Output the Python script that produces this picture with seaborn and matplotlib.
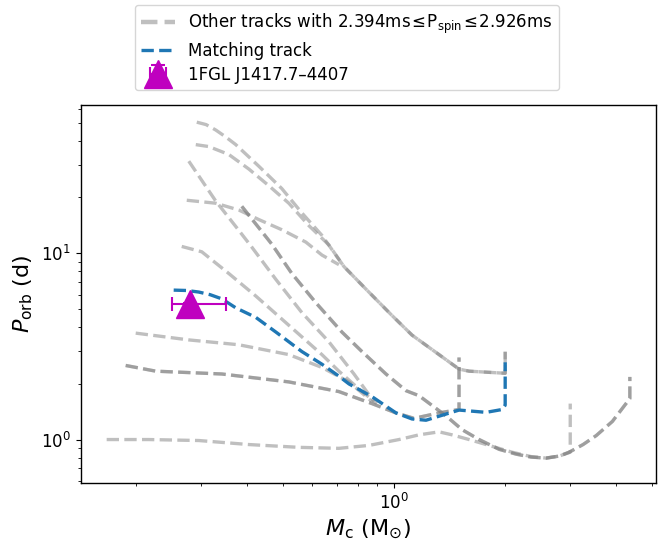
"""
Orbital period vs. companion mass for binary evolution tracks,
with the matching track and 1FGL J1417.7-4407 marked.
"""

import matplotlib
matplotlib.use("Agg")
import matplotlib.pyplot as plt
from matplotlib.lines import Line2D
import seaborn as sns
import pandas as pd

sns.set_style("ticks", {
    "axes.edgecolor": "black",
    "axes.labelcolor": "black",
    "text.color": "black",
    "xtick.color": "black",
    "ytick.color": "black",
    "xtick.direction": "out",
    "ytick.direction": "out",
})
plt.rcParams["font.family"] = ["DejaVu Sans"]

# ---- data (Mc in Msun, Porb in days) ----
# other tracks, each one its own pair of lists
trk_a_mc = [0.2925, 0.31, 0.3293, 0.35, 0.373, 0.4306, 0.497, 0.5631, 0.6381, 0.732,
            0.8396, 0.9876, 1.119, 1.324, 1.5, 1.597, 2.0, 2.0]
trk_a_p = [50.7, 49.2, 46.0, 42.3, 38.4, 29.4, 22.3, 16.5, 12.5, 8.5,
           6.43, 4.64, 3.64, 2.86, 2.39, 2.33, 2.27, 2.97]

trk_b_mc = [0.2907, 0.3152, 0.3571, 0.4046, 0.4584, 0.5192, 0.5883, 0.6665, 0.732,
            0.8396, 0.9876, 1.119, 1.324, 1.5, 1.597, 2.0, 2.0]
trk_b_p = [38.4, 37.5, 34.0, 28.4, 23.1, 18.6, 14.1, 11.1, 8.5,
           6.43, 4.64, 3.64, 2.86, 2.39, 2.33, 2.27, 2.97]

trk_c_mc = [0.2783, 0.3293, 0.3801, 0.4123, 0.4789, 0.5631, 0.6665, 0.7793, 0.8828]
trk_c_p = [31.3, 19.1, 13.3, 10.8, 7.25, 4.81, 3.35, 2.25, 1.60]

trk_d_mc = [0.2748, 0.3293, 0.3801, 0.4306, 0.497, 0.5773, 0.6381, 0.7094]
trk_d_p = [19.3, 18.6, 17.1, 15.2, 13.4, 11.5, 9.8, 8.7]

trk_e_mc = [0.2663, 0.3018, 0.3571, 0.4227, 0.5192, 0.6381, 0.7094, 0.8039, 0.8993]
trk_e_p = [10.9, 10.2, 7.8, 5.9, 4.11, 2.86, 2.33, 1.87, 1.56]

trk_f_mc = [0.3873, 0.4671, 0.529, 0.6146, 0.7229, 0.819, 0.9513, 1.078, 1.169,
            1.383, 1.529, 1.70, 1.926, 2.141, 2.35, 2.582, 2.8, 2.98, 3.25, 3.527,
            3.9, 4.35, 4.35]
trk_f_p = [17.9, 11.2, 7.8, 5.43, 3.78, 2.97, 2.25, 1.83, 1.72,
           1.34, 1.13, 1.0, 0.886, 0.835, 0.805, 0.795, 0.815, 0.855, 0.94, 1.05,
           1.25, 1.66, 2.17]

trk_g_mc = [0.1999, 0.2783, 0.3801, 0.5192, 0.6381, 0.7553, 0.8718]
trk_g_p = [3.73, 3.43, 3.23, 2.86, 2.44, 2.04, 1.60]

trk_h_mc = [0.1878, 0.2265, 0.3419, 0.5192, 0.7094, 0.8718, 1.0125, 1.133, 1.324, 1.5, 1.5]
trk_h_p = [2.50, 2.33, 2.25, 2.04, 1.81, 1.56, 1.39, 1.30, 1.39, 1.45, 2.76]

trk_i_mc = [0.1668, 0.2168, 0.2962, 0.4046, 0.5526, 0.7094, 0.8555, 1.0317, 1.169,
            1.324, 1.436, 1.597, 1.776, 2.088, 2.35, 2.582, 2.8, 3.0, 3.0]
trk_i_p = [1.0, 1.0, 0.988, 0.94, 0.908, 0.897, 0.93, 1.0, 1.06,
           1.10, 1.06, 1.0, 0.94, 0.855, 0.81, 0.795, 0.815, 0.855, 1.56]

# F and H each stand for two tracks lying on top of each other
other_tracks = [
    (trk_a_mc, trk_a_p), (trk_b_mc, trk_b_p), (trk_c_mc, trk_c_p),
    (trk_d_mc, trk_d_p), (trk_e_mc, trk_e_p),
    (trk_f_mc, trk_f_p), (trk_f_mc, trk_f_p),
    (trk_g_mc, trk_g_p),
    (trk_h_mc, trk_h_p), (trk_h_mc, trk_h_p),
    (trk_i_mc, trk_i_p),
]

match_mc = [0.2533, 0.275, 0.2962, 0.318, 0.3419, 0.373, 0.4227, 0.4789, 0.5631, 0.6381,
            0.7094, 0.7553, 0.8718, 1.0125, 1.119, 1.221, 1.349, 1.5, 1.776, 1.962,
            2.0, 2.0]
match_p = [6.35, 6.32, 6.2, 6.0, 5.7, 5.1, 4.53, 3.78, 2.97, 2.54,
           2.19, 1.99, 1.70, 1.39, 1.29, 1.27, 1.35, 1.44, 1.40, 1.45,
           1.53, 2.60]

# 1FGL J1417.7-4407
src_name = "1FGL J1417.7\u20134407"
src_mc = [0.28]
src_p = [5.36]
src_mc_err = [[0.03], [0.07]]
src_p_err = [0.05]

# ---- build frames ----
rows = []
for k, (mc, p) in enumerate(other_tracks):
    for x, y in zip(mc, p):
        rows.append({"track": k, "Mc": x, "Porb": y})
others_df = pd.DataFrame(rows)
match_df = pd.DataFrame({"Mc": match_mc, "Porb": match_p})

# ---- plot ----
fig = plt.figure(figsize=(6.59, 5.48), dpi=100)
ax = fig.add_axes([80.5 / 659, 65.3 / 548, 575.5 / 659, 377.7 / 548])
ax.set_xscale("log")
ax.set_yscale("log")

sns.lineplot(data=others_df, x="Mc", y="Porb", units="track", estimator=None,
             sort=False, color="grey", alpha=0.5, lw=2.4, ls="--",
             legend=False, ax=ax)
sns.lineplot(data=match_df, x="Mc", y="Porb", sort=False, estimator=None,
             color="#1f77b4", lw=2.4, ls="--", legend=False, ax=ax)

eb = ax.errorbar(src_mc, src_p, xerr=src_mc_err, yerr=src_p_err, fmt="^",
                 color="m", ms=20, elinewidth=1.5, capsize=4.7, capthick=1.5,
                 zorder=5)

ax.set_xlabel(r"$M_{\rm c}$ (M$_{\odot}$)", fontsize=16)
ax.set_ylabel(r"$P_{\rm orb}$ (d)", fontsize=16)
ax.tick_params(axis="both", which="major", labelsize=12, length=3.5, width=0.8)
ax.tick_params(axis="both", which="minor", length=2, width=0.6)
for s in ax.spines.values():
    s.set_linewidth(1.0)
    s.set_visible(True)

grey_handle = Line2D([], [], color="grey", alpha=0.5, lw=3.2, ls="--")
blue_handle = Line2D([], [], color="#1f77b4", lw=2.4, ls="--")
fig.legend(
    [grey_handle, blue_handle, eb],
    ["Other tracks with 2.394ms\u200a\u2264\u200aP$_{\\rm spin}$\u200a\u2264\u200a2.926ms",
     "Matching track", src_name],
    loc="upper center", bbox_to_anchor=(347 / 659, 1 - 5 / 548),
    fontsize=12, frameon=True, edgecolor="0.8", borderaxespad=0,
    labelspacing=0.35,
)

fig.savefig("out.png", dpi=100)
plt.close(fig)
